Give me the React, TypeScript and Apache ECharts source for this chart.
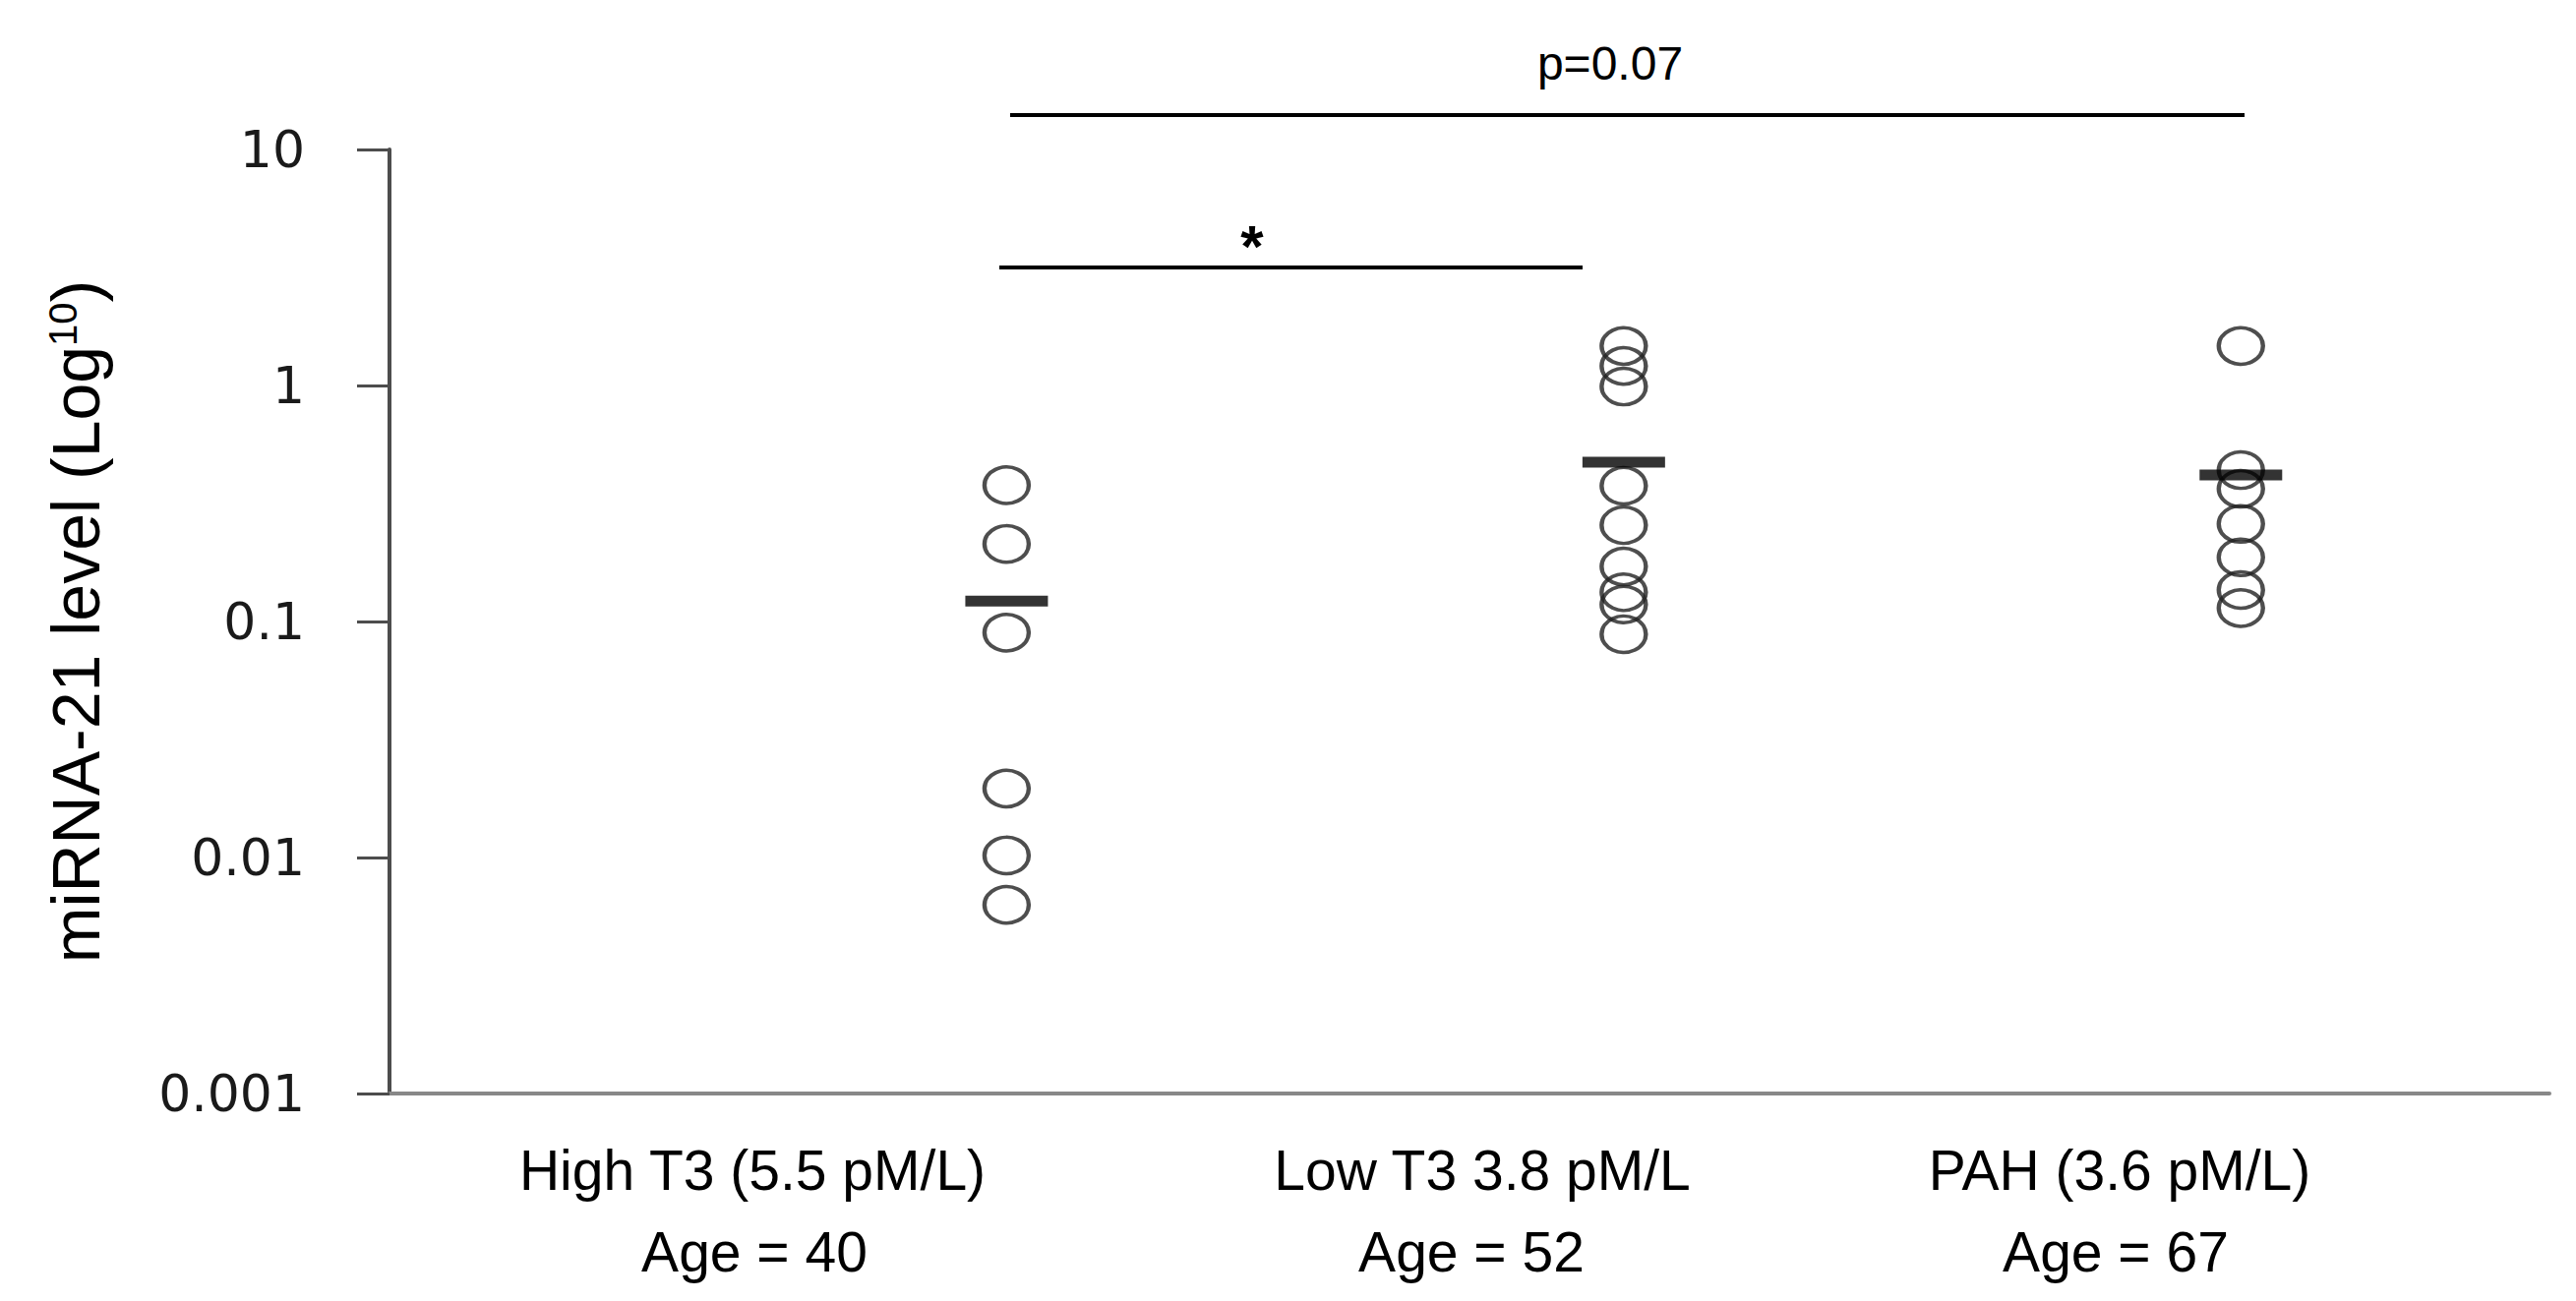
import React, { useEffect, useRef } from "react";
import * as echarts from "echarts";

// ---- data ----
const categories = ["High T3 (5.5 pM/L)", "Low T3 3.8 pM/L", "PAH (3.6 pM/L)"];
const ageLabels = ["Age = 40", "Age = 52", "Age = 67"];
const highT3 = [0.378, 0.213, 0.0897, 0.0196, 0.0102, 0.0063];
const lowT3 = [1.47, 1.21, 0.99, 0.376, 0.256, 0.171, 0.133, 0.118, 0.0883];
const pah = [1.47, 0.438, 0.365, 0.259, 0.187, 0.136, 0.114];
const groupMeans = [0.122, 0.473, 0.418];
const yMin = 0.001;
const yMax = 10;
const sigLabels = ["*", "p=0.07"];

export default function App() {
  const ref = useRef<HTMLDivElement>(null);
  useEffect(() => {
    document.body.style.margin = "0";
    const chart = echarts.init(ref.current!, null, { renderer: "svg" });
    const groups = [highT3, lowT3, pah];
    const circleSeries = groups.map((vals, gi) => ({
      type: "scatter",
      name: categories[gi],
      data: vals.map((v) => [gi + 1, v]),
      symbol: "circle",
      symbolSize: [45, 37],
      itemStyle: { color: "rgba(0,0,0,0)", borderColor: "#222", borderWidth: 4 },
      z: 2,
    }));
    const meanSeries = {
      type: "scatter",
      name: "mean",
      data: groupMeans.map((v, i) => [i + 1, v]),
      symbol: "rect",
      symbolSize: [84, 11],
      itemStyle: { color: "#000" },
      z: 3,
    };
    const labelFont = "'Liberation Sans', Arial, sans-serif";
    const catX = [765, 1507, 2155];
    const ageX = [767, 1496, 2151];
    const graphic: any[] = [];
    categories.forEach((c, i) => {
      graphic.push({
        type: "text",
        x: catX[i],
        y: 1190,
        style: { text: c, textAlign: "center", textVerticalAlign: "middle", fill: "#000", font: `57px ${labelFont}` },
      });
      graphic.push({
        type: "text",
        x: ageX[i],
        y: 1273,
        style: { text: ageLabels[i], textAlign: "center", textVerticalAlign: "middle", fill: "#000", font: `57px ${labelFont}` },
      });
    });
    graphic.push(
      { type: "line", shape: { x1: 1027, y1: 117, x2: 2282, y2: 117 }, style: { stroke: "#000", lineWidth: 4 } },
      { type: "line", shape: { x1: 1016, y1: 272, x2: 1609, y2: 272 }, style: { stroke: "#000", lineWidth: 4 } },
      {
        type: "text",
        x: 1273,
        y: 250,
        style: { text: sigLabels[0], textAlign: "center", textVerticalAlign: "middle", fill: "#000", font: `bold 60px ${labelFont}` },
      },
      {
        type: "text",
        x: 1637,
        y: 64,
        style: { text: sigLabels[1], textAlign: "center", textVerticalAlign: "middle", fill: "#000", font: `48px 'Liberation Sans Narrow', ${labelFont}` },
      }
    );

    chart.setOption({
      animation: false,
      backgroundColor: "#fff",
      grid: { left: 396, right: 27, top: 152, bottom: 211, containLabel: false },
      xAxis: {
        type: "value",
        min: 0,
        max: 3.5,
        axisLine: { show: true, onZero: false, lineStyle: { color: "#888", width: 4 } },
        axisTick: { show: false },
        axisLabel: { show: false },
        splitLine: { show: false },
      },
      yAxis: {
        type: "log",
        logBase: 10,
        min: yMin,
        max: yMax,
        name: "{t|miRNA-21 level (Log}{s|10}{t|)}",
        nameLocation: "middle",
        nameRotate: 90,
        nameGap: 285,
        nameTextStyle: {
          rich: {
            t: { fontSize: 68, fontFamily: labelFont, color: "#000" },
            s: { fontSize: 40, fontFamily: labelFont, color: "#000", padding: [0, 0, 26, 0] },
          },
        },
        axisLine: { show: true, lineStyle: { color: "#4d4d4d", width: 4 } },
        axisTick: { show: true, length: 33, lineStyle: { color: "#4d4d4d", width: 3 } },
        axisLabel: {
          margin: 86,
          fontSize: 52,
          fontFamily: "'DejaVu Sans', Verdana, sans-serif",
          color: "#1a1a1a",
          formatter: (v: number) => String(v),
        },
        splitLine: { show: false },
      },
      series: [...circleSeries, meanSeries],
      graphic,
    });
    return () => chart.dispose();
  }, []);
  return <div ref={ref} style={{ position: "fixed", left: 0, top: 0, width: 2619, height: 1323 }} />;
}
